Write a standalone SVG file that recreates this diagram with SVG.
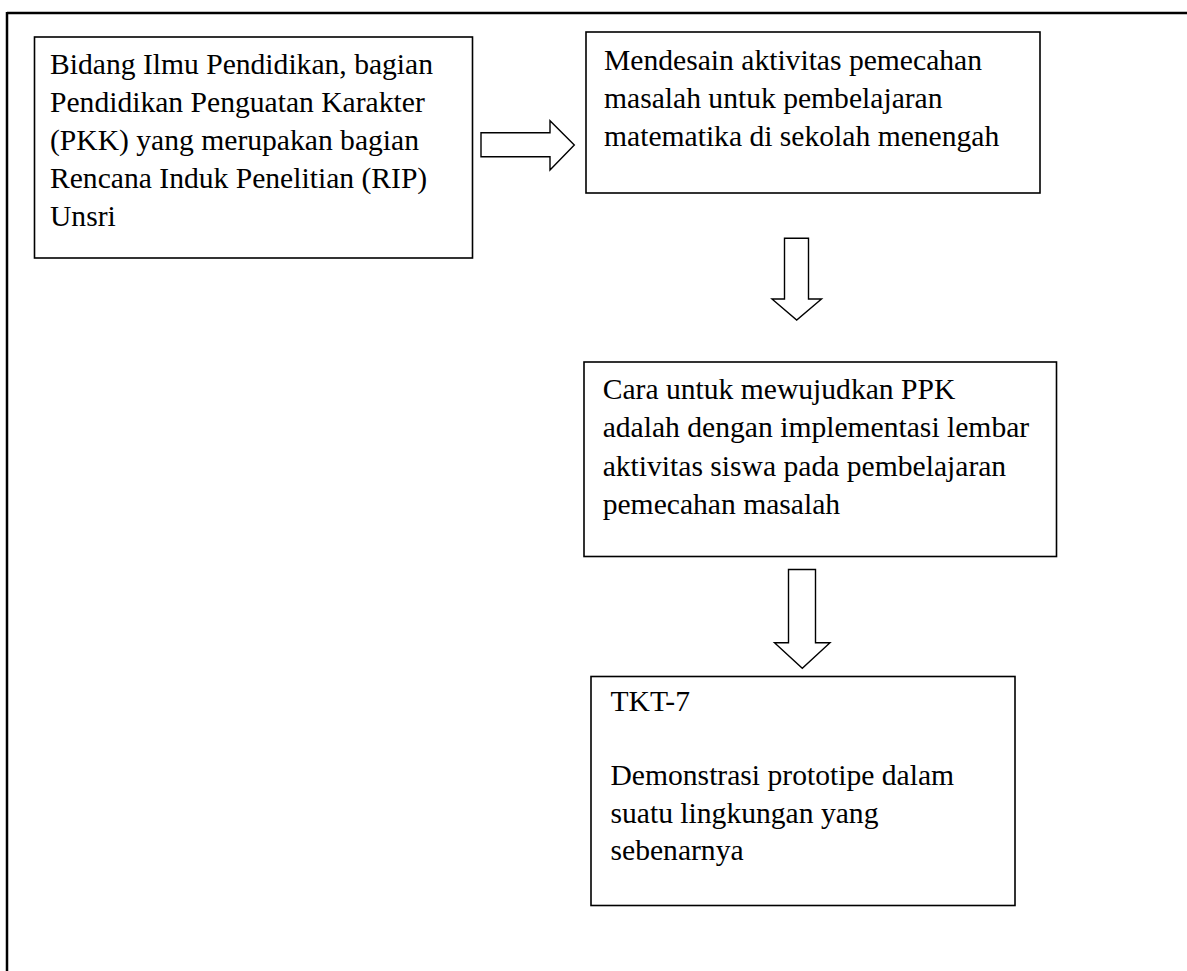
<svg xmlns="http://www.w3.org/2000/svg" width="1187" height="971" viewBox="0 0 1187 971">
<style>
.box{fill:#fff;stroke:#000;stroke-width:1.6}
.arr{fill:#fff;stroke:#000;stroke-width:1.4;stroke-linejoin:miter}
.frame{stroke:#000;stroke-width:2.5;fill:none}
text{font-family:"Liberation Serif","Times New Roman",serif;font-size:29.6px;fill:#000}
</style>
<rect width="1187" height="971" fill="#fff"/>
<g id="frame">
<line class="frame" x1="7" y1="13" x2="1187" y2="13"/>
<line class="frame" x1="7" y1="12" x2="7" y2="971"/>
</g>
<g id="connectors">
<polygon class="arr" points="481,132.7 550,132.7 550,120.7 574.3,145 550,170 550,156.7 481,156.7"/>
<polygon class="arr" points="784.5,238.3 808.5,238.3 808.5,299 821.5,299 796.7,320 772,299 784.5,299"/>
<polygon class="arr" points="788.5,569.5 815.5,569.5 815.5,642.7 830,642.7 802.3,668.3 774.5,642.7 788.5,642.7"/>
</g>
<g id="node1">
<rect class="box" x="34.5" y="37" width="438" height="221"/>
<text x="50" y="73.5">Bidang Ilmu Pendidikan, bagian</text>
<text x="50" y="111.5">Pendidikan Penguatan Karakter</text>
<text x="50" y="149.5">(PKK) yang merupakan bagian</text>
<text x="50" y="187.5">Rencana Induk Penelitian (RIP)</text>
<text x="50" y="225.5">Unsri</text>
</g>
<g id="node2">
<rect class="box" x="586" y="32" width="454" height="161"/>
<text x="604" y="70">Mendesain aktivitas pemecahan</text>
<text x="604" y="108">masalah untuk pembelajaran</text>
<text x="604" y="146">matematika di sekolah menengah</text>
</g>
<g id="node3">
<rect class="box" x="584" y="362" width="472.5" height="194.5"/>
<text x="602.7" y="398.5">Cara untuk mewujudkan PPK</text>
<text x="602.7" y="437">adalah dengan implementasi lembar</text>
<text x="602.7" y="475.5">aktivitas siswa pada pembelajaran</text>
<text x="602.7" y="514">pemecahan masalah</text>
</g>
<g id="node4">
<rect class="box" x="591" y="676.5" width="424" height="229"/>
<text x="610.5" y="711">TKT-7</text>
<text x="610.5" y="785">Demonstrasi prototipe dalam</text>
<text x="610.5" y="822.5">suatu lingkungan yang</text>
<text x="610.5" y="859.5">sebenarnya</text>
</g>
</svg>
